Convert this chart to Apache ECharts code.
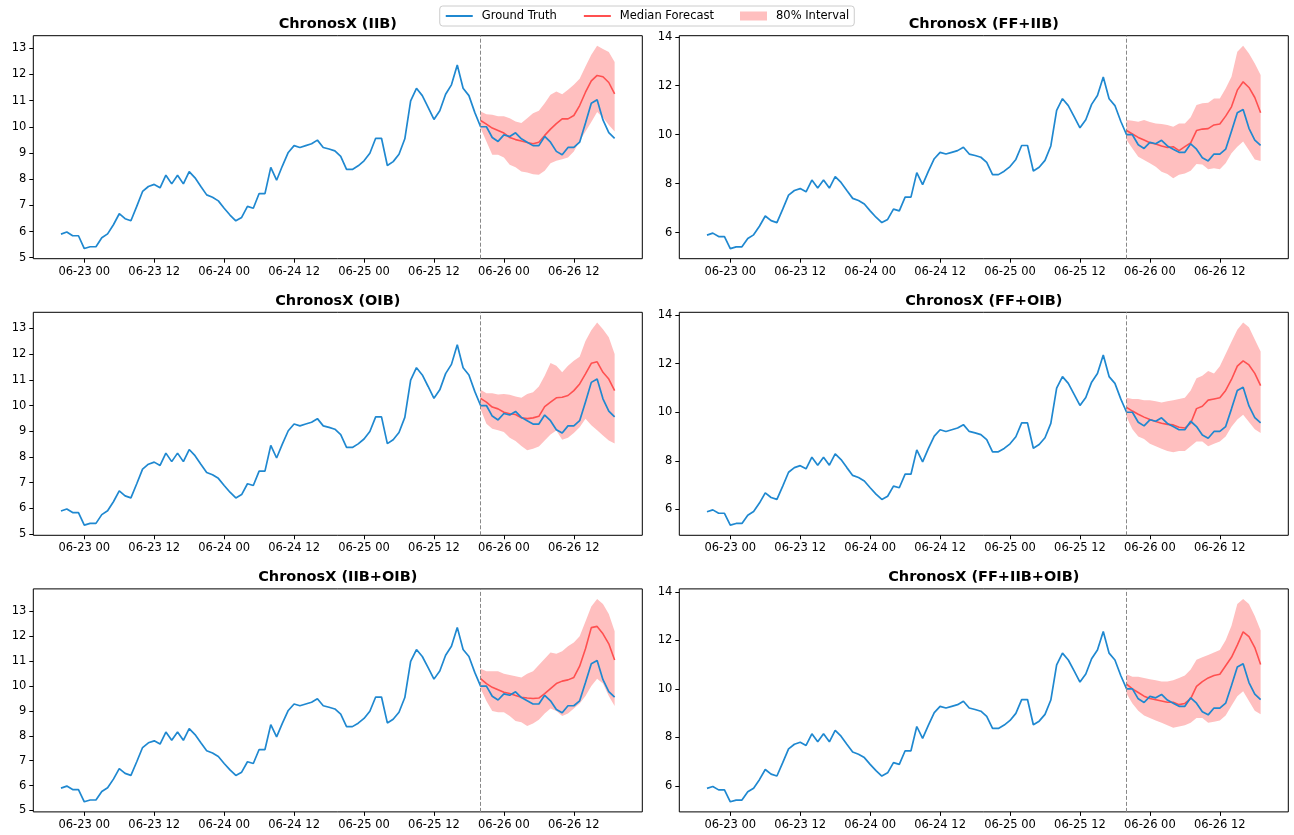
<!DOCTYPE html>
<html>
<head>
<meta charset="utf-8">
<script src="https://cdn.jsdelivr.net/npm/echarts@6/dist/echarts.min.js"></script>
<style>
  html, body { margin: 0; padding: 0; background: #fff; }
  #chart { width: 1294px; height: 835px; }
</style>
</head>
<body>
<div id="chart"></div>
<script>
// hourly ground truth, 06-22 20:00 .. 06-26 19:00 (x = hours since start)
const truth = [
  5.90, 5.98, 5.84, 5.84, 5.35, 5.42, 5.42, 5.76, 5.91, 6.26, 6.68, 6.49,
  6.41, 6.96, 7.53, 7.72, 7.80, 7.67, 8.15, 7.82, 8.15, 7.82, 8.29, 8.05,
  7.72, 7.40, 7.31, 7.17, 6.89, 6.63, 6.41, 6.54, 6.96, 6.89, 7.45, 7.45,
  8.45, 7.96, 8.51, 9.02, 9.28, 9.21, 9.28, 9.35, 9.49, 9.21, 9.15, 9.08,
  8.87, 8.37, 8.37, 8.51, 8.70, 8.99, 9.56, 9.56, 8.52, 8.67, 8.95, 9.54,
  10.99, 11.47, 11.19, 10.74, 10.28, 10.61, 11.24, 11.60, 12.36, 11.47, 11.19, 10.55,
  10.00, 10.00, 9.59, 9.44, 9.69, 9.63, 9.77, 9.54, 9.41, 9.28, 9.28, 9.63,
  9.41, 9.06, 8.93, 9.21, 9.21, 9.41, 10.14, 10.90, 11.03, 10.26, 9.78, 9.56
];
const forecastStart = 72;

const xTickHours = [4, 16, 28, 40, 52, 64, 76, 88];
const xTickLabels = ['06-23 00', '06-23 12', '06-24 00', '06-24 12',
                     '06-25 00', '06-25 12', '06-26 00', '06-26 12'];
const yTicksLeft = [5, 6, 7, 8, 9, 10, 11, 12, 13];
const yTicksRight = [6, 8, 10, 12, 14];

const titles = ['ChronosX (IIB)', 'ChronosX (FF+IIB)', 'ChronosX (OIB)',
                'ChronosX (FF+OIB)', 'ChronosX (IIB+OIB)', 'ChronosX (FF+IIB+OIB)'];

// forecasts: 24 hourly steps from 06-25 20:00
const medIIB = [10.24, 10.10, 9.95, 9.86, 9.76, 9.59, 9.51, 9.46, 9.40, 9.35, 9.41, 9.67,
                9.91, 10.12, 10.30, 10.30, 10.43, 10.81, 11.32, 11.75, 11.96, 11.91, 11.69, 11.26];
const lowIIB = [9.95, 9.44, 8.93, 8.93, 8.83, 8.55, 8.45, 8.29, 8.25, 8.19, 8.17, 8.32,
                8.61, 8.70, 8.76, 8.83, 9.06, 9.46, 9.82, 10.18, 10.56, 10.35, 10.07, 9.82];
const upIIB = [10.58, 10.48, 10.46, 10.40, 10.40, 10.33, 10.20, 10.14, 10.33, 10.52, 10.61, 10.90,
               11.22, 11.35, 11.24, 11.41, 11.60, 11.83, 12.30, 12.75, 13.09, 12.97, 12.85, 12.47];

const medFFIIB = [10.17, 10.03, 9.89, 9.78, 9.67, 9.62, 9.54, 9.48, 9.51, 9.35, 9.51, 9.67,
                  10.17, 10.23, 10.25, 10.40, 10.44, 10.76, 11.14, 11.82, 12.16, 11.93, 11.52, 10.90];
const lowFFIIB = [9.78, 9.44, 9.10, 8.97, 8.83, 8.69, 8.49, 8.40, 8.22, 8.36, 8.42, 8.53,
                  8.80, 8.78, 8.59, 8.63, 8.59, 8.83, 9.24, 9.51, 9.72, 9.37, 8.99, 8.93];
const upFFIIB = [10.60, 10.57, 10.53, 10.60, 10.52, 10.46, 10.44, 10.40, 10.33, 10.46, 10.46, 10.71,
                 11.21, 11.28, 11.31, 11.48, 11.48, 11.89, 12.37, 13.39, 13.63, 13.32, 12.91, 12.44];

const medOIB = [10.28, 10.13, 9.94, 9.87, 9.74, 9.68, 9.65, 9.52, 9.49, 9.52, 9.58, 9.96,
                10.13, 10.30, 10.32, 10.39, 10.58, 10.84, 11.23, 11.64, 11.70, 11.29, 11.03, 10.58];
const lowOIB = [9.87, 9.29, 9.10, 9.04, 8.97, 8.75, 8.62, 8.43, 8.26, 8.32, 8.41, 8.64,
                8.87, 9.03, 8.67, 8.75, 8.93, 9.16, 9.49, 9.23, 9.04, 8.84, 8.64, 8.52];
const upOIB = [10.61, 10.48, 10.48, 10.43, 10.45, 10.42, 10.35, 10.30, 10.45, 10.52, 10.74, 11.16,
               11.65, 11.55, 11.29, 11.55, 11.74, 11.90, 12.51, 12.93, 13.23, 12.97, 12.65, 12.00];

const medFFOIB = [10.20, 10.05, 9.92, 9.80, 9.70, 9.62, 9.55, 9.50, 9.48, 9.38, 9.35, 9.55,
                  10.15, 10.25, 10.50, 10.55, 10.60, 10.90, 11.35, 11.90, 12.12, 11.95, 11.60, 11.10];
const lowFFOIB = [9.80, 9.30, 9.00, 8.90, 8.70, 8.60, 8.50, 8.40, 8.35, 8.40, 8.40, 8.60,
                  8.80, 8.80, 8.60, 8.70, 8.80, 9.00, 9.40, 9.70, 9.90, 9.60, 9.30, 9.15];
const upFFOIB = [10.60, 10.55, 10.55, 10.50, 10.50, 10.45, 10.40, 10.45, 10.50, 10.55, 10.60, 10.90,
                 11.40, 11.50, 11.70, 11.60, 11.90, 12.40, 12.90, 13.40, 13.70, 13.50, 13.00, 12.50];

const medIIBOIB = [10.30, 10.10, 9.95, 9.85, 9.75, 9.70, 9.62, 9.55, 9.52, 9.50, 9.52, 9.70,
                   9.90, 10.10, 10.20, 10.25, 10.35, 10.80, 11.50, 12.35, 12.40, 12.10, 11.70, 11.05];
const lowIIBOIB = [9.90, 9.40, 9.00, 8.95, 8.95, 8.80, 8.60, 8.55, 8.40, 8.50, 8.65, 8.90,
                   9.10, 9.00, 8.80, 8.90, 9.10, 9.30, 9.60, 10.00, 10.30, 10.10, 9.60, 9.20];
const upIIBOIB = [10.70, 10.60, 10.60, 10.60, 10.50, 10.45, 10.40, 10.35, 10.50, 10.60, 10.85, 11.10,
                  11.35, 11.30, 11.40, 11.60, 11.75, 12.00, 12.60, 13.20, 13.50, 13.30, 12.90, 12.20];

const medAll = [10.20, 10.00, 9.85, 9.70, 9.60, 9.55, 9.50, 9.45, 9.45, 9.35, 9.40, 9.60,
                10.10, 10.30, 10.45, 10.55, 10.60, 10.95, 11.30, 11.80, 12.35, 12.15, 11.70, 11.00];
const lowAll = [9.80, 9.40, 9.10, 8.90, 8.80, 8.70, 8.60, 8.50, 8.40, 8.45, 8.50, 8.60,
                8.80, 8.80, 8.60, 8.65, 8.70, 8.90, 9.30, 9.70, 9.90, 9.50, 9.10, 8.95];
const upAll = [10.60, 10.50, 10.50, 10.45, 10.40, 10.35, 10.30, 10.30, 10.35, 10.45, 10.55, 10.80,
               11.20, 11.30, 11.40, 11.50, 11.60, 12.00, 12.60, 13.50, 13.70, 13.50, 13.00, 12.40];

const medians = [medIIB, medFFIIB, medOIB, medFFOIB, medIIBOIB, medAll];
const lowers = [lowIIB, lowFFIIB, lowOIB, lowFFOIB, lowIIBOIB, lowAll];
const uppers = [upIIB, upFFIIB, upOIB, upFFOIB, upIIBOIB, upAll];

const BLUE = '#1f88d0';
const RED = '#ff5050';
const PINK = '#ffbfbf';
const FONT = 'DejaVu Sans';

const colLeft = [33.3, 679.3];
const rowTop = [35.7, 312.3, 588.9];
const plotW = 609, plotH = 223;

let myChart = echarts.init(document.getElementById('chart'));

let grid = [], xAxis = [], yAxis = [], title = [], series = [];

// interval band as one polygon: upper edge forward, lower edge back
function renderBand(params, api) {
  if (params.dataIndexInside !== 0) return null;
  const n = params.dataInsideLength;
  const top = [], bottom = [];
  for (let j = 0; j < n; j++) {
    top.push(api.coord([api.value(0, j), api.value(2, j)]));
    bottom.push(api.coord([api.value(0, j), api.value(1, j)]));
  }
  return {
    type: 'polygon',
    shape: { points: top.concat(bottom.reverse()) },
    style: { fill: PINK }
  };
}

titles.forEach((name, k) => {
  const col = k % 2, row = Math.floor(k / 2);
  grid.push({
    left: colLeft[col], top: rowTop[row], width: plotW, height: plotH,
    show: true, borderColor: '#000', borderWidth: 1, backgroundColor: 'transparent'
  });
  title.push({
    text: name,
    left: colLeft[col] + plotW / 2, top: rowTop[row] - 19, textAlign: 'center', padding: 0,
    textStyle: { fontFamily: FONT, fontSize: 14.5, fontWeight: 'bold', color: '#000' }
  });

  // axis extent like matplotlib: 5% margins around the data
  const all = truth.concat(medians[k], lowers[k], uppers[k]);
  const lo = Math.min(...all), hi = Math.max(...all), pad = (hi - lo) * 0.05;
  const ymin = lo - pad, ymax = hi + pad;
  const ticks = (col === 0 ? yTicksLeft : yTicksRight).filter(v => v >= ymin && v <= ymax);

  xAxis.push({
    type: 'value', gridIndex: k, min: -4.75, max: 95 + 4.75,
    axisLine: { show: false, onZero: false },
    splitLine: { show: false },
    axisTick: { show: true, length: 4, customValues: xTickHours, lineStyle: { color: '#000', width: 1 } },
    axisLabel: {
      customValues: xTickHours, margin: 7,
      formatter: v => xTickLabels[xTickHours.indexOf(v)] || '',
      fontFamily: FONT, fontSize: 11.5, color: '#000'
    }
  });
  yAxis.push({
    type: 'value', gridIndex: k, min: ymin, max: ymax,
    axisLine: { show: false, onZero: false },
    splitLine: { show: false },
    axisTick: { show: true, length: 4, customValues: ticks, lineStyle: { color: '#000', width: 1 } },
    axisLabel: {
      customValues: ticks, margin: 7,
      formatter: v => String(Math.round(v)),
      fontFamily: FONT, fontSize: 11.5, color: '#000'
    }
  });

  const fx = i => forecastStart + i;
  series.push({
    type: 'custom', xAxisIndex: k, yAxisIndex: k, name: '80% Interval',
    data: lowers[k].map((v, i) => [fx(i), v, uppers[k][i]]),
    encode: { x: 0, y: [1, 2] },
    itemStyle: { color: PINK },
    renderItem: renderBand,
    silent: true, z: 1
  });
  series.push({
    type: 'line', xAxisIndex: k, yAxisIndex: k, name: 'Median Forecast',
    data: medians[k].map((v, i) => [fx(i), v]),
    symbol: 'none', silent: true,
    itemStyle: { color: RED },
    lineStyle: { width: 1.6, color: RED }, z: 3
  });
  series.push({
    type: 'line', xAxisIndex: k, yAxisIndex: k, name: 'Ground Truth',
    data: truth.map((v, i) => [i, v]),
    symbol: 'none', silent: true,
    itemStyle: { color: BLUE },
    lineStyle: { width: 1.7, color: BLUE }, z: 4,
    markLine: {
      silent: true, symbol: 'none', animation: false,
      label: { show: false },
      lineStyle: { color: '#888', type: [4, 2], width: 1 },
      data: [{ xAxis: forecastStart }]
    }
  });
});

let option = {
  animation: false,
  backgroundColor: '#fff',
  title: title,
  legend: {
    top: 6, left: 'center',
    padding: [4, 5], itemGap: 26, itemWidth: 27, itemHeight: 9,
    borderColor: '#cccccc', borderWidth: 1, borderRadius: 3,
    textStyle: { fontFamily: FONT, fontSize: 11.5, color: '#000', padding: [0, 0, 0, 4] },
    data: [
      { name: 'Ground Truth', itemStyle: { opacity: 0 } },
      { name: 'Median Forecast', itemStyle: { opacity: 0 } },
      { name: '80% Interval', icon: 'rect', itemStyle: { color: PINK } }
    ]
  },
  grid: grid,
  xAxis: xAxis,
  yAxis: yAxis,
  series: series
};
myChart.setOption(option);
</script>
</body>
</html>
